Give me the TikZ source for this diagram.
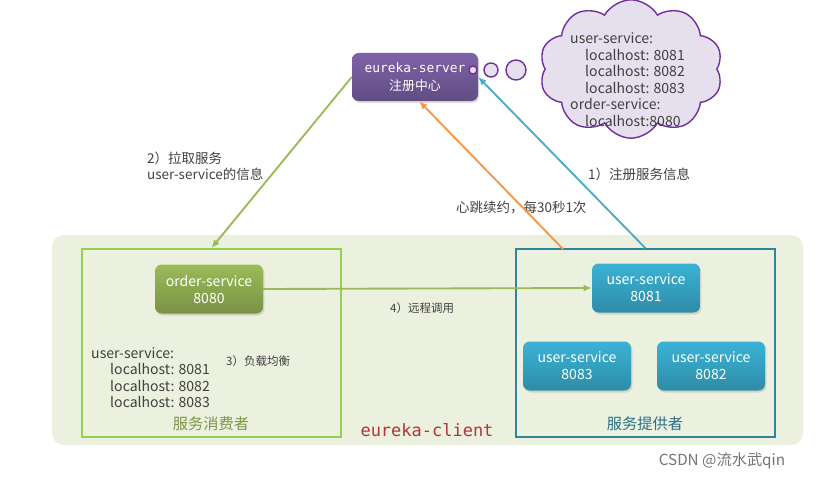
\documentclass[tikz,border=0pt]{standalone}
\usepackage{fontspec}
\setmainfont{Noto Sans CJK SC}
\newfontfamily\monofont{DejaVu Sans Mono}
\usetikzlibrary{shapes.symbols,shadows,arrows.meta}

\definecolor{bgolive}{HTML}{EBF1DE}
\definecolor{consgreen}{HTML}{92D050}
\definecolor{provteal}{HTML}{31849B}
\definecolor{svpurple}{HTML}{7E62A8}
\definecolor{svgreen}{HTML}{9BBB59}
\definecolor{svblue}{HTML}{3BB3D6}
\definecolor{arrgreen}{HTML}{9BBB59}
\definecolor{arrteal}{HTML}{4BACC6}
\definecolor{arrorange}{HTML}{F79646}
\definecolor{cloudfill}{HTML}{E6E0EE}
\definecolor{cloudline}{HTML}{7030A0}
\definecolor{lbgray}{HTML}{404040}
\definecolor{clientred}{HTML}{B03535}

\begin{document}
\begin{tikzpicture}[x=0.03cm, y=-0.03cm,
    myservice/.style={rounded corners=0.2cm, minimum width=3.24cm, minimum height=1.47cm, align=center,
        text=white, font=\fontsize{12}{14.5}\selectfont, top color=#1, bottom color=#1!78!black,
        drop shadow={opacity=0.25, shadow xshift=0.04cm, shadow yshift=-0.06cm}},
    mygroup/.style={draw=#1, minimum width=7.77cm, minimum height=5.64cm},
    mylabel/.style={inner sep=0, align=left, text=lbgray, anchor=west},
    myarrow/.style={->, >={Latex[length=7pt,width=6pt]}, line width=1.6pt, draw=#1}]
    \useasboundingbox (0,0) rectangle (819,478);
    \fill[bgolive, rounded corners=0.36cm] (52,235) rectangle (803,445);
    \node[mygroup=consgreen, line width=1.7pt] (consumer) at (211.5,343) {};
    \node[mygroup=provteal, line width=1.3pt] (provider) at (645.5,343) {};
    \node[myservice=svpurple, minimum width=3.78cm, minimum height=1.44cm, font=\fontsize{11}{15}\selectfont] (server) at (415,77) {{\monofont eureka-server}\\注册中心};
    \node[myservice=svgreen] (order) at (209,289) {order-service\\8080};
    \foreach \nm/\px/\py/\port in {ua/646/288/8081, ub/577/366/8083, uc/711/366/8082}{
        \node[myservice=svblue] (\nm) at (\px,\py) {user-service\\\port};
    }
    \node[cloud, cloud puffs=10, cloud puff arc=120, aspect=1.4, shape border rotate=18, draw=cloudline, fill=cloudfill, line width=1.2pt,
        minimum width=5.5cm, minimum height=4.15cm] (registry) at (631,69) {};
    \foreach \cx/\r in {473/4, 491/7, 516/10}{
        \draw[cloudline, fill=cloudfill, line width=1.2pt] (\cx,70) circle[radius=\r*0.03cm];
    }
    \node[mylabel, font=\fontsize{12}{14.1}\selectfont] (cloudtext) at (570,79.5)
        {user-service:\\\hspace*{0.45cm}localhost: 8081\\\hspace*{0.45cm}localhost: 8082\\\hspace*{0.45cm}localhost: 8083\\order-service:\\\hspace*{0.45cm}localhost:8080};
    \node[mylabel, font=\fontsize{12}{13.9}\selectfont] (lblist) at (91,377.5)
        {user-service:\\\hspace*{0.57cm}localhost: 8081\\\hspace*{0.57cm}localhost: 8082\\\hspace*{0.57cm}localhost: 8083};
    \node[mylabel, font=\fontsize{11.5}{13.8}\selectfont] (lbpull) at (147,166) {2）拉取服务\\user-service的信息};
    \node[mylabel, font=\fontsize{11.5}{13.8}\selectfont] (lbreg) at (588,174) {1）注册服务信息};
    \node[mylabel, font=\fontsize{11.5}{13.8}\selectfont] (lbbeat) at (456,208) {心跳续约，每30秒1次};
    \node[mylabel, font=\fontsize{9.8}{12}\selectfont] (lbbalance) at (226,361) {3）负载均衡};
    \node[mylabel, font=\fontsize{9.8}{12}\selectfont] (lbcall) at (390,308) {4）远程调用};
    \node[font=\fontsize{13}{15}\selectfont, text=svgreen!80!black] (lbcons) at (211,424) {服务消费者};
    \node[font=\fontsize{13}{15}\selectfont, text=provteal!85!black] (lbprov) at (645,424) {服务提供者};
    \node[font=\monofont\fontsize{14.5}{16}\selectfont, text=clientred] (lbclient) at (427,430) {eureka-client};
    \node[font=\fontsize{13}{15}\selectfont, text=black!55] (mark) at (722,461) {CSDN @流水武qin};
    \coordinate (hb) at (563,249);
    \draw[myarrow=arrgreen] (server.west) -- (consumer.north);
    \draw[myarrow=arrteal] (provider.north) -- (server.east);
    \draw[myarrow=arrorange] (hb) -- (server.-80);
    \draw[myarrow=arrgreen] (order.east) -- (ua.west);
\end{tikzpicture}
\end{document}
